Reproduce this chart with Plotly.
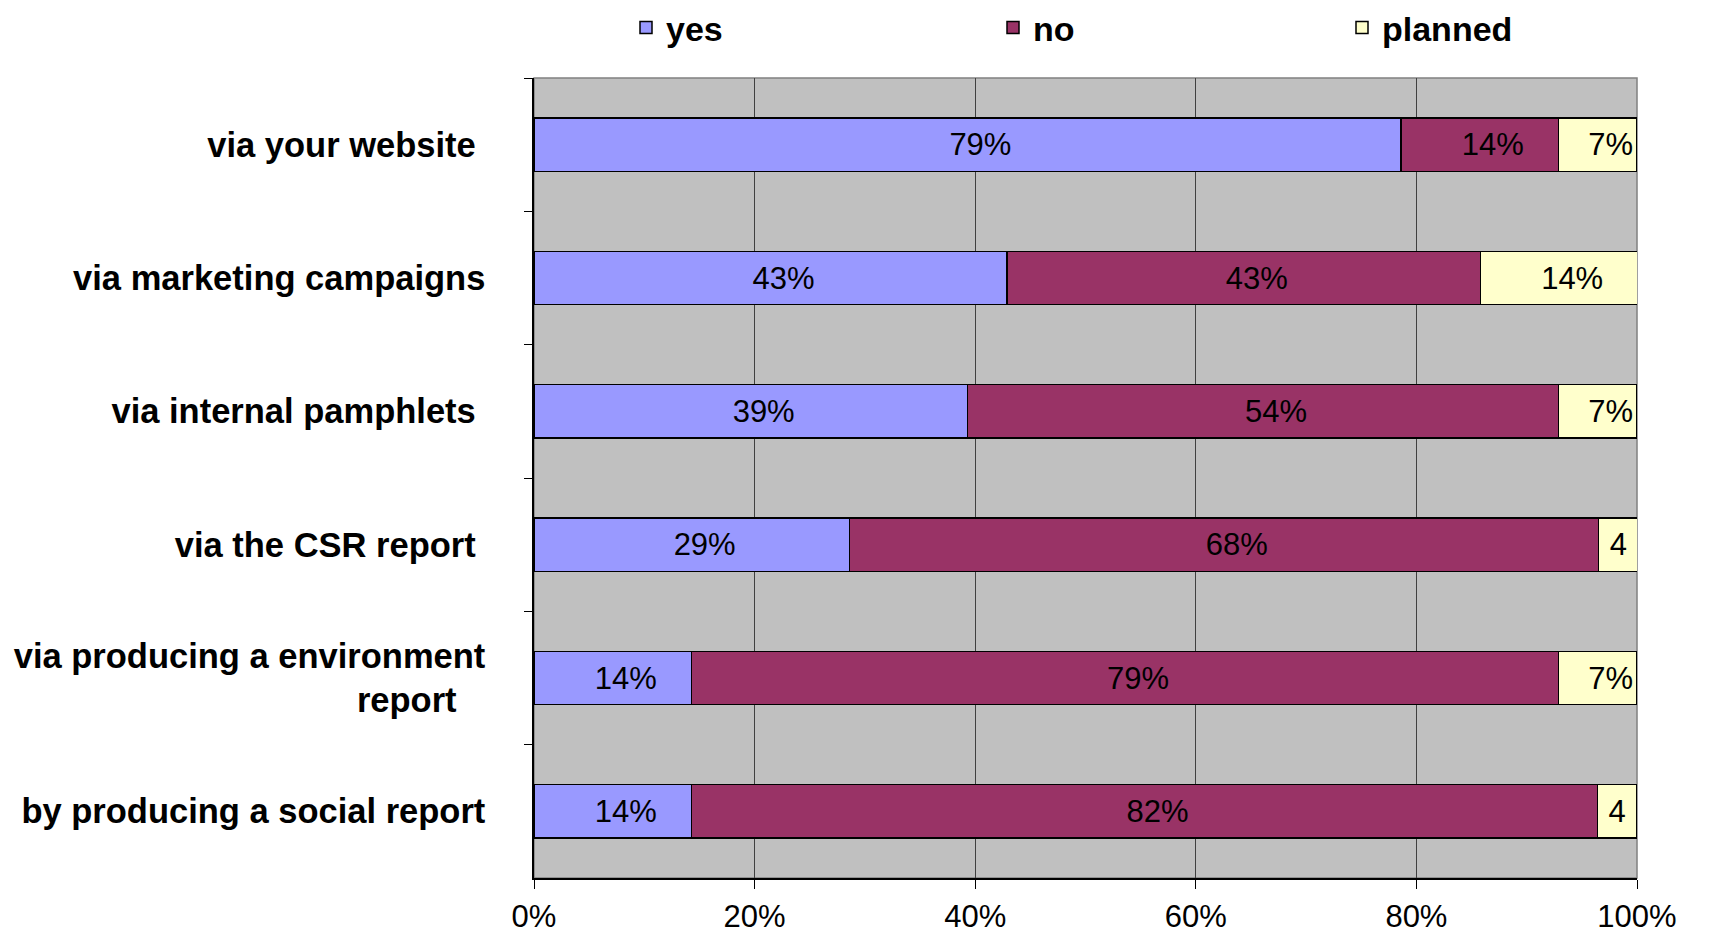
import plotly.graph_objects as go

categories = ['via your website\u00a0', 'via marketing campaigns', 'via internal pamphlets\u00a0',
              'via the CSR report\u00a0', 'via producing a environment<br>report\u00a0\u00a0\u00a0',
              'by producing a social report']
yes_vals = [78.6, 42.9, 39.3, 28.6, 14.3, 14.3]
no_vals = [14.3, 42.9, 53.6, 67.9, 78.6, 82.1]
planned_vals = [7.1, 14.3, 7.1, 3.6, 7.1, 3.6]
yes_text = ['79%', '43%', '39%', '29%', '14%', '14%']
no_text = ['14%', '43%', '54%', '68%', '79%', '82%']
planned_text = ['7%', '14%', '7%', '4', '7%', '4']
x_ticks = [0, 20, 40, 60, 80, 100]
x_tick_labels = ['0%', '20%', '40%', '60%', '80%', '100%']

font_family = 'Liberation Sans, Arial, sans-serif'

# page body has an 8px margin, figure sits at (8, 8)
W, H = 1701, 930

fig = go.Figure()
series = [('yes', yes_vals, yes_text, '#9999FF', 'legend'),
          ('no', no_vals, no_text, '#993366', 'legend2'),
          ('planned', planned_vals, planned_text, '#FFFFCC', 'legend3')]
for name, vals, txt, color, leg in series:
    # excel draws its labels a little right of centre
    shown = [('\u00a0' * 3 + t) if t.endswith('%') else t for t in txt]
    fig.add_trace(go.Bar(y=categories, x=vals, name=name, orientation='h', legend=leg,
                         showlegend=True,
                         text=shown, textposition='inside', insidetextanchor='middle', textangle=0,
                         textfont=dict(family=font_family, size=31, color='black'),
                         marker=dict(color=color, line=dict(color='black', width=1.5))))

leg_font = dict(size=34, family=font_family, weight='bold')
leg_common = dict(xref='container', yref='container', y=1 - 20 / H, yanchor='middle', xanchor='left',
                  font=leg_font, bgcolor='rgba(0,0,0,0)', visible=True)

fig.update_layout(barmode='stack', bargap=0.6, width=W, height=H, showlegend=True,
                  margin=dict(l=526, r=72, t=70, b=60, autoexpand=False),
                  plot_bgcolor='#C0C0C0', paper_bgcolor='white',
                  font=dict(family=font_family, color='black'),
                  uniformtext=dict(minsize=28, mode='show'),
                  legend=dict(x=618 / W, **leg_common),
                  legend2=dict(x=985 / W, **leg_common),
                  legend3=dict(x=1334 / W, **leg_common),
                  shapes=[dict(type='rect', xref='paper', yref='paper', x0=0, x1=1, y0=0, y1=1,
                               line=dict(color='#808080', width=1.5), layer='below')])

fig.update_xaxes(range=[0, 100], tickvals=x_ticks, ticktext=x_tick_labels, showgrid=True,
                 gridcolor='#404040', gridwidth=1, showline=True, linecolor='black', linewidth=1.5,
                 ticks='outside', ticklen=9, tickcolor='black', ticklabelstandoff=1,
                 tickfont=dict(size=31, family=font_family), zeroline=False)
fig.update_yaxes(autorange='reversed', showline=True, linecolor='black', linewidth=1.5,
                 ticks='outside', ticklen=8, tickcolor='black', tickson='boundaries',
                 ticklabelstandoff=40, showgrid=False,
                 tickfont=dict(size=34.5, family=font_family, weight='bold'))

fig.write_html("out.html")
